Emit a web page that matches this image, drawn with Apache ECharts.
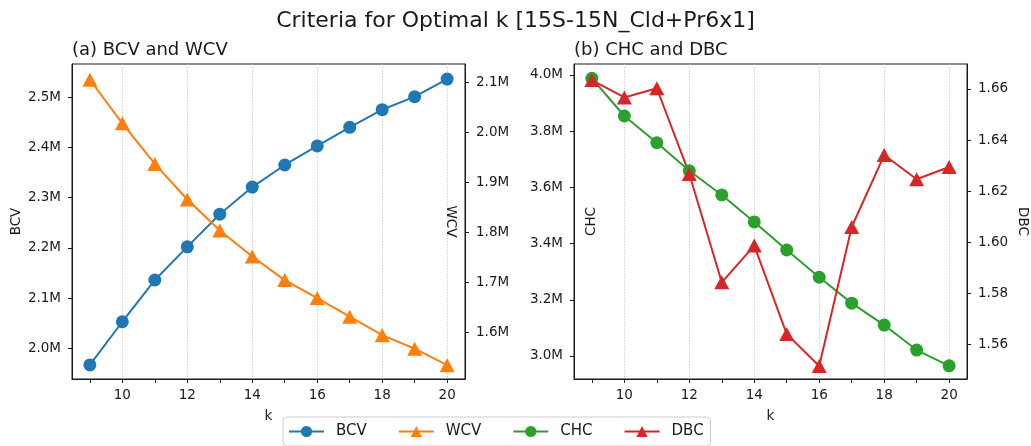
<!DOCTYPE html>
<html>
<head>
<meta charset="utf-8">
<script src="https://cdn.jsdelivr.net/npm/echarts@6/dist/echarts.min.js"></script>
<style>
  html, body { margin: 0; padding: 0; background: #fff; }
  #chart { width: 1031px; height: 446px; }
</style>
</head>
<body>
<div id="chart"></div>
<script>
// data
const kValues = [9, 10, 11, 12, 13, 14, 15, 16, 17, 18, 19, 20]
const bcv = [1967000, 2053000, 2136000, 2202000, 2267000, 2321000, 2365000, 2403000, 2440000, 2475000, 2501000, 2536000]
const wcv = [2105000, 2018000, 1937000, 1866000, 1804000, 1752000, 1705000, 1669000, 1632000, 1595000, 1568000, 1535000]
const chc = [3988000, 3854000, 3759000, 3659000, 3573000, 3477000, 3377000, 3280000, 3188000, 3110000, 3021000, 2965000]
const dbc = [1.6635, 1.6567, 1.6603, 1.6267, 1.5842, 1.5986, 1.5639, 1.5514, 1.6059, 1.6341, 1.6246, 1.6294]

// tick labels
const kTicks = [9, 10, 11, 12, 13, 14, 15, 16, 17, 18, 19, 20]
const kLabels = [10, 12, 14, 16, 18, 20]
const bcvTicks = [2000000, 2100000, 2200000, 2300000, 2400000, 2500000]
const wcvTicks = [1600000, 1700000, 1800000, 1900000, 2000000, 2100000]
const chcTicks = [3000000, 3200000, 3400000, 3600000, 3800000, 4000000]
const dbcTicks = [1.56, 1.58, 1.60, 1.62, 1.64, 1.66]

const colors = ['#1f77b4', '#ff7f0e', '#2ca02c', '#d62728']
const FONT = 'DejaVu Sans'
const INK = '#1a1a1a'

const fmtM = v => (v / 1e6).toFixed(1) + 'M'
const fmt2 = v => v.toFixed(2)

const kAxis = (gridIndex) => ({
  type: 'value',
  gridIndex,
  min: 8.45,
  max: 20.55,
  name: 'k',
  nameLocation: 'middle',
  nameGap: 30,
  nameTextStyle: { fontFamily: FONT, fontSize: 13.5, color: INK },
  axisLine: { show: true, lineStyle: { color: INK, width: 1 } },
  axisTick: { show: true, length: 4, customValues: kTicks, lineStyle: { color: INK } },
  axisLabel: { customValues: kLabels, margin: 9, fontFamily: FONT, fontSize: 13.5, color: INK },
  splitLine: { show: false }
})

// invisible axis used only for the dotted vertical grid lines at even k
const gridAxis = (gridIndex) => ({
  type: 'value',
  gridIndex,
  min: 8.45,
  max: 20.55,
  axisLine: { show: false },
  axisTick: { show: false, customValues: kLabels },
  axisLabel: { show: false },
  splitLine: { show: true, lineStyle: { color: '#c4c4c4', type: [1.5, 1.5], width: 0.8 } }
})

const valAxis = (gridIndex, position, name, min, max, ticks, fmt, nameGap) => ({
  type: 'value',
  gridIndex,
  position,
  min,
  max,
  name,
  nameLocation: 'middle',
  nameGap,
  nameRotate: position === 'left' ? 90 : -90,
  nameTextStyle: { fontFamily: FONT, fontSize: 13.5, color: INK },
  axisLine: { show: true, lineStyle: { color: INK, width: 1 } },
  axisTick: { show: true, length: 4, customValues: ticks, lineStyle: { color: INK } },
  axisLabel: { customValues: ticks, formatter: fmt, margin: 11, fontFamily: FONT, fontSize: 13.5, color: INK },
  splitLine: { show: false }
})

const makeSeries = (name, values, xi, yi, color, symbol, size) => ({
  name,
  type: 'line',
  xAxisIndex: xi,
  yAxisIndex: yi,
  data: kValues.map((k, i) => [k, values[i]]),
  symbol,
  symbolSize: size,
  showSymbol: true,
  lineStyle: { color, width: 2 },
  itemStyle: { color, borderWidth: 0 },
  emphasis: { disabled: true }
})

const chart = echarts.init(document.getElementById('chart'), null, { renderer: 'canvas' })

chart.setOption({
  animation: false,
  color: colors,
  title: [
    { text: 'Criteria for Optimal k [15S-15N_Cld+Pr6x1]', left: 'center', top: 10, padding: 0,
      textStyle: { fontFamily: FONT, fontSize: 22, fontWeight: 'normal', color: INK } },
    { text: '(a) BCV and WCV', left: 72, top: 41, padding: 0,
      textStyle: { fontFamily: FONT, fontSize: 18, fontWeight: 'normal', color: INK } },
    { text: '(b) CHC and DBC', left: 574, top: 41, padding: 0,
      textStyle: { fontFamily: FONT, fontSize: 18, fontWeight: 'normal', color: INK } }
  ],
  legend: {
    left: 283,
    top: 417,
    padding: [7, 7, 7, 5],
    itemWidth: 35,
    itemHeight: 14,
    itemGap: 31,
    borderColor: '#cccccc',
    borderWidth: 1,
    borderRadius: 4,
    textStyle: { fontFamily: FONT, fontSize: 15, color: INK, padding: [0, 0, 0, 7] },
    data: ['BCV', 'WCV', 'CHC', 'DBC']
  },
  grid: [
    { left: 72, right: 566, top: 64, bottom: 67, show: true, borderColor: INK, borderWidth: 1, backgroundColor: 'transparent' },
    { left: 574, right: 64, top: 64, bottom: 67, show: true, borderColor: INK, borderWidth: 1, backgroundColor: 'transparent' }
  ],
  xAxis: [kAxis(0), kAxis(1), gridAxis(0), gridAxis(1)],
  yAxis: [
    valAxis(0, 'left', 'BCV', 1939000, 2566000, bcvTicks, fmtM, 47),
    valAxis(0, 'right', 'WCV', 1507500, 2136500, wcvTicks, fmtM, -22),
    valAxis(1, 'left', 'CHC', 2918000, 4039000, chcTicks, fmtM, -24),
    valAxis(1, 'right', 'DBC', 1.5463, 1.6698, dbcTicks, fmt2, 48)
  ],
  series: [
    makeSeries('BCV', bcv, 0, 0, colors[0], 'circle', 13),
    makeSeries('WCV', wcv, 0, 1, colors[1], 'triangle', [15, 14]),
    makeSeries('CHC', chc, 1, 2, colors[2], 'circle', 13),
    makeSeries('DBC', dbc, 1, 3, colors[3], 'triangle', [15, 14])
  ]
})

window.addEventListener('resize', () => chart.resize())
</script>
</body>
</html>
